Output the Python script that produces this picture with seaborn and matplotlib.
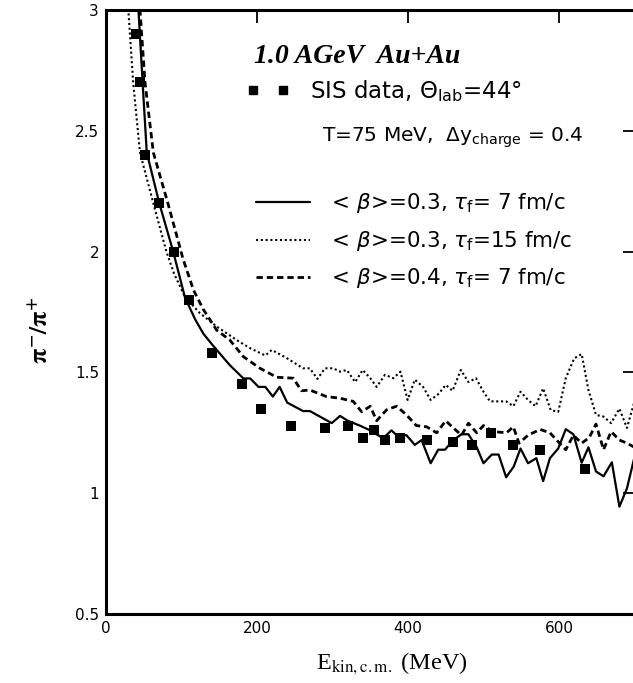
import matplotlib
matplotlib.use("Agg")
import matplotlib.pyplot as plt
from matplotlib.lines import Line2D
import seaborn as sns

# ---- data ----
sis_e = [40, 45, 51, 70, 90, 110, 140, 180, 205, 245, 290, 320, 340, 355, 370,
         389, 425, 459, 485, 510, 539, 575, 634]
sis_r = [2.90, 2.70, 2.40, 2.20, 2.00, 1.80, 1.58, 1.45, 1.35, 1.28, 1.27, 1.28,
         1.23, 1.26, 1.22, 1.23, 1.22, 1.21, 1.20, 1.25, 1.20, 1.18, 1.10]

b03_t7_e = [41, 43, 48.5, 54, 70.6, 89, 104.6, 118, 129, 142, 164, 182, 191, 202,
            211, 221, 230, 240, 261, 270, 299, 310, 320, 336, 350, 367, 378, 385,
            398, 409, 418, 430, 440, 449, 460, 471, 480, 491, 500, 511, 520, 530,
            540, 549, 559, 570, 579, 588, 599, 609, 619, 630, 639, 649, 659, 670,
            680, 690, 700]
b03_t7_r = [3.1, 3.0, 2.70, 2.41, 2.20, 2.0, 1.81, 1.72, 1.66, 1.61, 1.53, 1.475,
            1.475, 1.44, 1.44, 1.40, 1.44, 1.375, 1.34, 1.34, 1.29, 1.32, 1.30,
            1.28, 1.26, 1.227, 1.26, 1.24, 1.24, 1.20, 1.22, 1.124, 1.18, 1.18,
            1.22, 1.244, 1.244, 1.19, 1.124, 1.16, 1.16, 1.066, 1.11, 1.185, 1.124,
            1.145, 1.05, 1.145, 1.185, 1.265, 1.244, 1.126, 1.19, 1.09, 1.07,
            1.128, 0.944, 1.02, 1.15]

b03_t15_e = [27.5, 29.6, 36, 45, 62.7, 80, 90, 105, 124.5, 146.6, 173, 191, 211,
             219.5, 239, 261, 270, 280, 290, 301, 310, 319, 330, 340, 350, 358.5,
             369.5, 380.5, 390, 399.5, 409, 420, 430, 440, 450, 459, 470, 480, 490,
             500, 508.6, 520, 530, 539.5, 549, 559, 569, 579, 589, 599, 609, 620,
             630, 639, 649, 659, 669, 680, 690, 700]
b03_t15_r = [3.1, 3.0, 2.70, 2.41, 2.20, 2.0, 1.91, 1.81, 1.745, 1.69, 1.634, 1.60,
             1.57, 1.593, 1.56, 1.517, 1.517, 1.473, 1.517, 1.517, 1.503, 1.51,
             1.46, 1.51, 1.476, 1.44, 1.49, 1.476, 1.503, 1.386, 1.47, 1.44, 1.386,
             1.41, 1.448, 1.424, 1.51, 1.46, 1.476, 1.42, 1.38, 1.38, 1.38, 1.36,
             1.42, 1.386, 1.36, 1.434, 1.344, 1.337, 1.476, 1.558, 1.576, 1.427,
             1.324, 1.317, 1.29, 1.35, 1.27, 1.38]

b04_t7_e = [42.8, 45, 51.7, 62.7, 82, 102, 116, 129, 146.6, 164, 182, 204, 226,
            248, 259, 270, 292, 310, 327.5, 338.6, 350, 358.5, 371.6, 385, 398,
            411, 424.6, 438, 450, 460, 471, 480, 491, 500, 513, 530.6, 539.5, 547,
            559, 575, 588, 599, 609, 619, 630, 640, 649, 659, 669, 680, 690, 700]
b04_t7_r = [3.1, 3.0, 2.70, 2.41, 2.20, 1.97, 1.84, 1.76, 1.675, 1.634, 1.565,
            1.517, 1.48, 1.476, 1.424, 1.427, 1.40, 1.393, 1.38, 1.337, 1.36, 1.30,
            1.345, 1.36, 1.324, 1.28, 1.275, 1.25, 1.30, 1.27, 1.24, 1.29, 1.25,
            1.28, 1.255, 1.25, 1.275, 1.207, 1.24, 1.264, 1.25, 1.213, 1.18, 1.24,
            1.207, 1.23, 1.286, 1.18, 1.255, 1.22, 1.207, 1.19]

x_ticks = [0, 200, 400, 600]
y_ticks = [0.5, 1, 1.5, 2, 2.5, 3]
y_tick_labels = ["0.5", "1", "1.5", "2", "2.5", "3"]

labels = [r"$<\,\beta$>=0.3, $\tau_{\rm f}$= 7 fm/c",
          r"$<\,\beta$>=0.3, $\tau_{\rm f}$=15 fm/c",
          r"$<\,\beta$>=0.4, $\tau_{\rm f}$= 7 fm/c"]

# ---- plot ----
sns.set_style("white")
plt.rcParams["font.family"] = ["DejaVu Sans"]
plt.rcParams["mathtext.fontset"] = "dejavusans"
plt.rcParams["text.color"] = "black"
plt.rcParams["axes.labelcolor"] = "black"
plt.rcParams["xtick.color"] = "black"
plt.rcParams["ytick.color"] = "black"

W, H = 633, 683
fig = plt.figure(figsize=(W / 100, H / 100), dpi=100)


def fx(px):
    return px / W


def fy(py):
    return 1 - py / H


ax = fig.add_axes([fx(106), fy(614), fx(634.5) - fx(106), fy(10) - fy(614)])

dot_style = (0, (1.0, 1.3))
dash_style = (0, (2.3, 1.4))

sns.lineplot(x=b03_t7_e, y=b03_t7_r, ax=ax, color="black", lw=1.6,
             sort=False, estimator=None, linestyle="-")
sns.lineplot(x=b03_t15_e, y=b03_t15_r, ax=ax, color="black", lw=1.5,
             sort=False, estimator=None, linestyle=dot_style)
sns.lineplot(x=b04_t7_e, y=b04_t7_r, ax=ax, color="black", lw=2.0,
             sort=False, estimator=None, linestyle=dash_style)
sns.scatterplot(x=sis_e, y=sis_r, ax=ax, marker="s", s=55, color="black",
                edgecolor="black", linewidth=0, zorder=5)

ax.set_xlim(0, 700)
ax.set_ylim(0.5, 3)
ax.set_xticks(x_ticks)
ax.set_xticklabels([str(v) for v in x_ticks])
ax.set_yticks(y_ticks)
ax.set_yticklabels(y_tick_labels)
ax.tick_params(direction="in", length=9, width=1.3, top=True, right=True,
               labelsize=11, colors="black", pad=5)
for sp in ax.spines.values():
    sp.set_linewidth(2.2)
    sp.set_color("black")
ax.spines["right"].set_visible(False)

ax.set_xlabel(r"E$_{\rm kin,c.m.}$ (MeV)", fontsize=17.5, family="Liberation Serif",
              math_fontfamily="stix", color="black")
ax.xaxis.set_label_coords((392 - 106) / 528.5, -0.06)
ax.set_ylabel(r"$\mathbf{\pi^{-}/\pi^{+}}$", fontsize=18, math_fontfamily="stix",
              color="black")
ax.yaxis.set_label_coords(-0.10, 0.47)

# annotations
fig.text(fx(254), fy(63), "1.0 AGeV  Au+Au", fontsize=20, color="black",
         family="Liberation Serif", weight="bold", style="italic", va="baseline")
fig.text(fx(322), fy(142), r"T=75 MeV,  $\Delta$y$_{\rm charge}$ = 0.4",
         fontsize=14.5, va="baseline", color="black")

sq = Line2D([], [], marker="s", ls="none", color="black", markersize=6)
fig.legend([sq], [r"SIS data, $\Theta_{\rm lab}$=44°"], numpoints=2,
           loc="center left", bbox_to_anchor=(fx(246), fy(91)),
           frameon=False, fontsize=16.5, handlelength=1.9, labelcolor="black",
           handletextpad=0.9, borderpad=0, borderaxespad=0)

h1 = Line2D([], [], color="black", lw=1.6, ls="-")
h2 = Line2D([], [], color="black", lw=1.5, ls=dot_style)
h3 = Line2D([], [], color="black", lw=2.0, ls=dash_style)
row_y = [203, 241, 278]
for h, lab, yy in zip([h1, h2, h3], labels, row_y):
    fig.legend([h], [lab], loc="center left", bbox_to_anchor=(fx(256), fy(yy)),
               frameon=False, fontsize=15.4, handlelength=2.52, labelcolor="black",
               handletextpad=0.8, borderpad=0, borderaxespad=0)

fig.savefig("out.png", dpi=100)
